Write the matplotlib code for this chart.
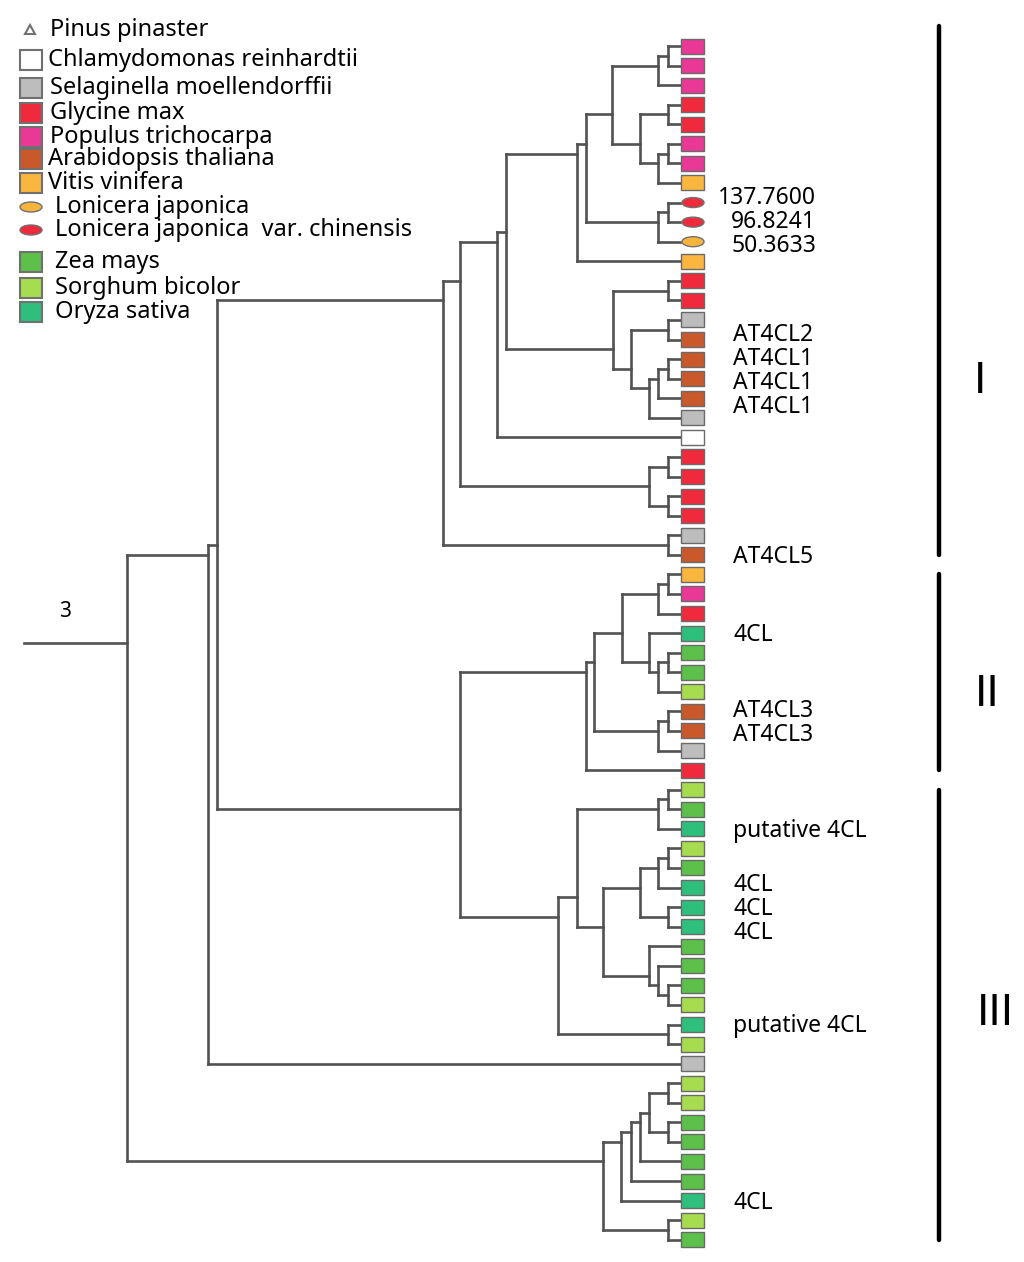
import matplotlib.pyplot as plt
from matplotlib.patches import Rectangle, Ellipse, Polygon

# species colours and legend names
species = ['Pp', 'Cr', 'Sm', 'Gm', 'Pt', 'At', 'Vv', 'Lj', 'Ljc', 'Zm', 'Sb', 'Os']
species_names = ['Pinus pinaster', 'Chlamydomonas reinhardtii', 'Selaginella moellendorffii',
                 'Glycine max', 'Populus trichocarpa', 'Arabidopsis thaliana', 'Vitis vinifera',
                 'Lonicera japonica', 'Lonicera japonica  var. chinensis', 'Zea mays',
                 'Sorghum bicolor', 'Oryza sativa']
species_colors = {'Pp': 'white', 'Cr': 'white', 'Sm': '#bdbdbd', 'Gm': '#ee2a3c',
                  'Pt': '#ea3896', 'At': '#c9582b', 'Vv': '#fbb640', 'Lj': '#f6b43c',
                  'Ljc': '#ee2a3c', 'Zm': '#5cc04a', 'Sb': '#a8dc50', 'Os': '#2ebf7d'}

# leaf order top to bottom (1..62)
leaf_species = ['Pt', 'Pt', 'Pt', 'Gm', 'Gm', 'Pt', 'Pt', 'Vv', 'Ljc', 'Ljc',
                'Lj', 'Vv', 'Gm', 'Gm', 'Sm', 'At', 'At', 'At', 'At', 'Sm',
                'Cr', 'Gm', 'Gm', 'Gm', 'Gm', 'Sm', 'At', 'Vv', 'Pt', 'Gm',
                'Os', 'Zm', 'Zm', 'Sb', 'At', 'At', 'Sm', 'Gm', 'Sb', 'Zm',
                'Os', 'Sb', 'Zm', 'Os', 'Os', 'Os', 'Zm', 'Zm', 'Zm', 'Sb',
                'Os', 'Sb', 'Sm', 'Sb', 'Sb', 'Zm', 'Zm', 'Zm', 'Zm', 'Os',
                'Sb', 'Zm']

# expression values (right aligned) and gene names (left aligned)
leaf_values = {9: '137.7600', 10: '96.8241', 11: '50.3633'}
leaf_genes = {16: 'AT4CL2', 17: 'AT4CL1', 18: 'AT4CL1', 19: 'AT4CL1', 27: 'AT4CL5',
              31: '4CL', 35: 'AT4CL3', 36: 'AT4CL3', 41: 'putative 4CL',
              44: '4CL', 45: '4CL', 46: '4CL', 51: 'putative 4CL', 60: '4CL'}

clade_names = ['I', 'II', 'III']
clade_first = [0, 28, 39]
clade_last = [27, 38, 62]


def N(depth, *kids):
    return (depth, list(kids))


# tree: internal node = (distance from root, children), leaf = index
tree = N(0.0,
         N(0.146,
           N(0.163,
             N(0.571,
               N(0.602,
                 N(0.669,
                   N(0.685,
                     N(0.814,
                       N(0.830,
                         N(0.877,
                           N(0.960, N(0.978, 1, 2), 3),
                           N(0.928, N(0.978, 4, 5), N(0.960, N(0.978, 6, 7), 8))),
                         N(0.960, N(0.978, 9, 10), 11)),
                       12),
                     N(0.879,
                       N(0.978, 13, 14),
                       N(0.911,
                         N(0.978, 15, 16),
                         N(0.944, N(0.960, N(0.978, 17, 18), 19), 20)))),
                   21),
                 N(0.944, N(0.978, 22, 23), N(0.978, 24, 25))),
               N(0.978, 26, 27)),
             N(0.602,
               N(0.830,
                 N(0.844,
                   N(0.895,
                     N(0.960, N(0.978, 28, 29), 30),
                     N(0.944, 31, N(0.960, N(0.978, 32, 33), 34))),
                   N(0.960, N(0.978, 35, 36), 37)),
                 38),
               N(0.779,
                 N(0.814,
                   N(0.960, N(0.978, 39, 40), 41),
                   N(0.861,
                     N(0.928, N(0.960, N(0.978, 42, 43), 44), N(0.978, 45, 46)),
                     N(0.944, 47, N(0.960, 48, N(0.978, 49, 50))))),
                 N(0.978, 51, 52)))),
           53),
         N(0.861,
           N(0.893,
             N(0.911,
               N(0.928,
                 N(0.944, N(0.978, 54, 55), N(0.978, 56, 57)),
                 58),
               59),
             60),
           N(0.978, 61, 62)))

# layout (pixels of the 1024x1262 figure)
W, H = 1024, 1262
root_px, tip_px = 127, 680
leaf0_px, step_px = 46, 19.57
sx = tip_px - root_px
FONT = 'Noto Sans'

fig = plt.figure(figsize=(W / 100, H / 100), dpi=100)
ax = fig.add_axes([0, 0, 1, 1])
ax.set_xlim(-root_px / sx, (W - root_px) / sx)
ax.set_ylim(1 + (H - leaf0_px) / step_px, 1 - leaf0_px / step_px)
ax.axis('off')

line_kw = dict(color='#525252', lw=1.9, solid_capstyle='projecting', zorder=2)


def draw(node):
    # returns (y, depth, leaves); node sits at the mean of its leaves
    if isinstance(node, int):
        return node, 1.0, [node]
    depth, kids = node
    res = [draw(k) for k in kids]
    leaves = [lf for r in res for lf in r[2]]
    for y, d, _ in res:
        ax.plot([depth, d], [y, y], **line_kw)
    ys = [r[0] for r in res]
    ax.plot([depth, depth], [min(ys), max(ys)], **line_kw)
    return sum(leaves) / len(leaves), depth, leaves


root_y, _, _ = draw(tree)
ax.plot([-(root_px - 24) / sx, 0], [root_y, root_y], **line_kw)
ax.text(-(root_px - 65) / sx, root_y - 1.6, '3', fontsize=15, ha='center', va='center',
        family=FONT)

# leaf markers
bw, bh = 23 / sx, 15 / step_px
for i, sp in enumerate(leaf_species, start=1):
    c = species_colors[sp]
    if sp in ('Lj', 'Ljc'):
        ax.add_patch(Ellipse((1.0 + 13 / sx, i), 22 / sx, 10 / step_px, facecolor=c,
                             edgecolor='#707070', lw=1.0, zorder=3))
    else:
        ax.add_patch(Rectangle((1.0 + 1 / sx, i - bh / 2), bw, bh, facecolor=c,
                               edgecolor='#6a6a6a', lw=1.0, zorder=3))


def spread(keys, factor=1.22):
    # stacked labels are spaced a little wider than the leaves, around each run's centre
    keys = sorted(keys)
    groups, cur = [], [keys[0]]
    for k in keys[1:]:
        if k == cur[-1] + 1:
            cur.append(k)
        else:
            groups.append(cur)
            cur = [k]
    groups.append(cur)
    pos = {}
    for g in groups:
        m = sum(g) / len(g)
        for k in g:
            pos[k] = m + (k - m) * factor
    return pos


vpos = spread(leaf_values)
for i, lab in leaf_values.items():
    ax.text((816 - root_px) / sx, vpos[i], lab, fontsize=16.5, ha='right', va='center',
            family=FONT)
gpos = spread(leaf_genes)
for i, lab in leaf_genes.items():
    ax.text((733 - root_px) / sx, gpos[i] + 0.1, lab, fontsize=16.5, ha='left', va='center',
            family=FONT)

# clade bars
bar_x = (939 - root_px) / sx
name_y = [18.1, 34.1, 50.4]
name_x = [(980 - root_px) / sx, (987 - root_px) / sx, (995 - root_px) / sx]
for name, a, b, ny, nx in zip(clade_names, clade_first, clade_last, name_y, name_x):
    ax.plot([bar_x, bar_x], [a, b], color='black', lw=3.2, solid_capstyle='round')
    ax.text(nx, ny, name, fontsize=30, ha='center', va='center', family='DejaVu Sans')

# legend (pixel coordinates)
leg = fig.add_axes([0, 0, 1, 1])
leg.set_xlim(0, W)
leg.set_ylim(H, 0)
leg.axis('off')
leg_y = [30, 60, 88, 113, 137, 159, 183, 207, 230, 262, 288, 312]
leg_tx = [50, 48, 50, 50, 50, 48, 48, 55, 55, 55, 55, 55]
for sp, name, y, tx in zip(species, species_names, leg_y, leg_tx):
    c = species_colors[sp]
    if sp == 'Pp':
        leg.add_patch(Polygon([(25, y + 4), (35, y + 4), (30, y - 5)], closed=True,
                              facecolor='white', edgecolor='#707070', lw=1.5))
    elif sp in ('Lj', 'Ljc'):
        leg.add_patch(Ellipse((31, y), 22, 10, facecolor=c, edgecolor='#707070', lw=1.0))
    else:
        leg.add_patch(Rectangle((20, y - 10), 22, 20, facecolor=c, edgecolor='#707070',
                                lw=1.5))
    leg.text(tx, y, name, fontsize=17, ha='left', va='center', family=FONT)

fig.savefig('out.png', dpi=100)
